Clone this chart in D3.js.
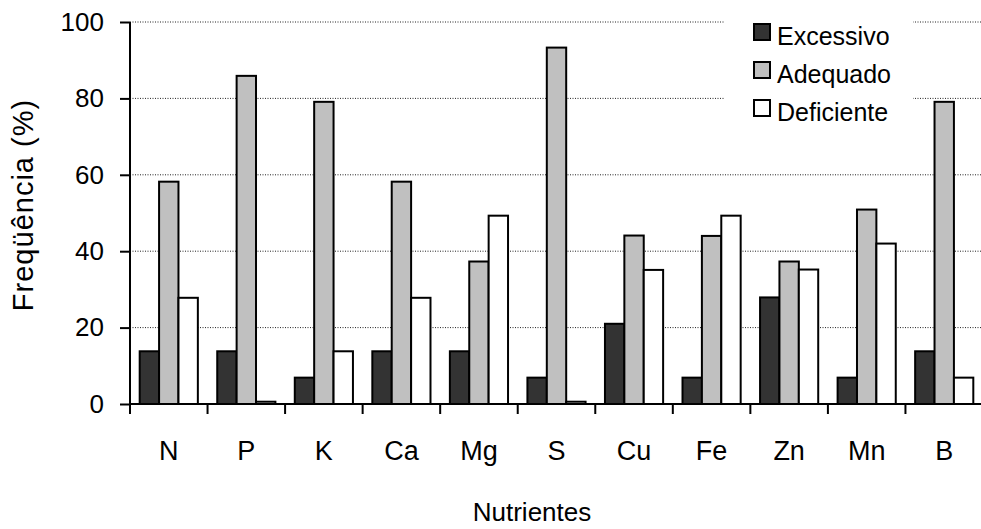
<!DOCTYPE html>
<html>
<head>
<meta charset="utf-8">
<script src="https://cdn.jsdelivr.net/npm/d3@7"></script>
<style>
  html, body { margin: 0; padding: 0; background: #fff; }
  svg { display: block; font-family: "Liberation Sans", Arial, Helvetica, sans-serif; }
</style>
</head>
<body>
<svg id="chart" width="981" height="529"></svg>
<script>
// Nutrient categories and frequency (%) of each diagnosis class
const nutrients = ["N", "P", "K", "Ca", "Mg", "S", "Cu", "Fe", "Zn", "Mn", "B"];
const seriesNames = ["Excessivo", "Adequado", "Deficiente"];
const excessivo  = [13.8, 13.8, 6.9, 13.8, 13.8, 6.9, 21.0, 6.9, 27.9, 6.9, 13.8];
const adequado   = [58.2, 85.9, 79.1, 58.2, 37.3, 93.3, 44.1, 44.0, 37.3, 50.9, 79.1];
const deficiente = [27.8, 0.6, 13.8, 27.8, 49.3, 0.6, 35.1, 49.3, 35.2, 42.0, 6.9];
const yTicks = [0, 20, 40, 60, 80, 100];
const seriesColors = ["#333333", "#c0c0c0", "#ffffff"];

const rows = nutrients.map((n, i) => ({
  nutrient: n,
  values: [excessivo[i], adequado[i], deficiente[i]]
}));

const svg = d3.select("#chart");
const plotLeft = 130, plotRight = 983, plotTop = 22, plotBottom = 404;

const x0 = d3.scaleBand()
  .domain(nutrients)
  .range([plotLeft, plotRight])
  .paddingInner(0.25)
  .paddingOuter(0.125);

const x1 = d3.scaleBand()
  .domain(seriesNames)
  .range([0, x0.bandwidth()]);

const y = d3.scaleLinear().domain([0, 100]).range([plotBottom, plotTop]);
const color = d3.scaleOrdinal().domain(seriesNames).range(seriesColors);

// dotted horizontal gridlines
svg.append("g")
  .selectAll("line")
  .data(yTicks.filter(t => t > 0))
  .join("line")
  .attr("x1", plotLeft)
  .attr("x2", 981)
  .attr("y1", d => y(d))
  .attr("y2", d => y(d))
  .attr("stroke", "#222")
  .attr("stroke-width", 1)
  .attr("stroke-dasharray", "1,1.5");

// bars
const groups = svg.append("g")
  .selectAll("g")
  .data(rows)
  .join("g")
  .attr("transform", d => `translate(${x0(d.nutrient)},0)`);

groups.selectAll("rect")
  .data(d => d.values.map((v, k) => ({ key: seriesNames[k], value: v })))
  .join("rect")
  .attr("x", d => x1(d.key))
  .attr("width", x1.bandwidth())
  .attr("y", d => y(d.value))
  .attr("height", d => y(0) - y(d.value))
  .attr("fill", d => color(d.key))
  .attr("stroke", "#000")
  .attr("stroke-width", 2);

// y axis
const yAxis = svg.append("g")
  .attr("transform", `translate(${plotLeft},0)`)
  .call(d3.axisLeft(y).tickValues(yTicks).tickSize(10).tickPadding(16));
yAxis.select(".domain").attr("stroke-width", 2).attr("d", `M0,${plotTop}V${plotBottom}`);
yAxis.selectAll(".tick line").attr("stroke-width", 2);
yAxis.selectAll(".tick text")
  .attr("font-size", 26)
  .attr("font-family", "Liberation Sans, Arial, sans-serif")
  .attr("fill", "#000");

// x axis: line with ticks on category boundaries
const step = x0.step();
const boundaries = d3.range(nutrients.length + 1).map(i => plotLeft + i * step);
const xAxis = svg.append("g");
xAxis.append("line")
  .attr("x1", plotLeft).attr("x2", plotRight)
  .attr("y1", plotBottom).attr("y2", plotBottom)
  .attr("stroke", "#000").attr("stroke-width", 2);
xAxis.selectAll(".b")
  .data(boundaries)
  .join("line")
  .attr("x1", d => d).attr("x2", d => d)
  .attr("y1", plotBottom).attr("y2", plotBottom + 10)
  .attr("stroke", "#000").attr("stroke-width", 2);
xAxis.selectAll("text")
  .data(nutrients)
  .join("text")
  .attr("x", d => x0(d) + x0.bandwidth() / 2)
  .attr("y", 460)
  .attr("text-anchor", "middle")
  .attr("font-size", 27)
  .text(d => d);

// axis titles
svg.append("text")
  .attr("x", 532)
  .attr("y", 521)
  .attr("text-anchor", "middle")
  .attr("font-size", 26)
  .text("Nutrientes");

svg.append("text")
  .attr("transform", "translate(33,205) rotate(-90)")
  .attr("text-anchor", "middle")
  .attr("font-size", 29)
  .attr("letter-spacing", 1)
  .text("Freqüência (%)");

// legend
const legend = svg.append("g");
legend.append("rect")
  .attr("x", 725).attr("y", 12)
  .attr("width", 188).attr("height", 116)
  .attr("fill", "#fff");
const items = legend.selectAll("g")
  .data(seriesNames)
  .join("g")
  .attr("transform", (d, i) => `translate(754,${24 + i * 38})`);
items.append("rect")
  .attr("width", 16).attr("height", 16)
  .attr("fill", d => color(d))
  .attr("stroke", "#000").attr("stroke-width", 2);
items.append("text")
  .attr("x", 23).attr("y", 21)
  .attr("font-size", 25)
  .text(d => d);
</script>
</body>
</html>
